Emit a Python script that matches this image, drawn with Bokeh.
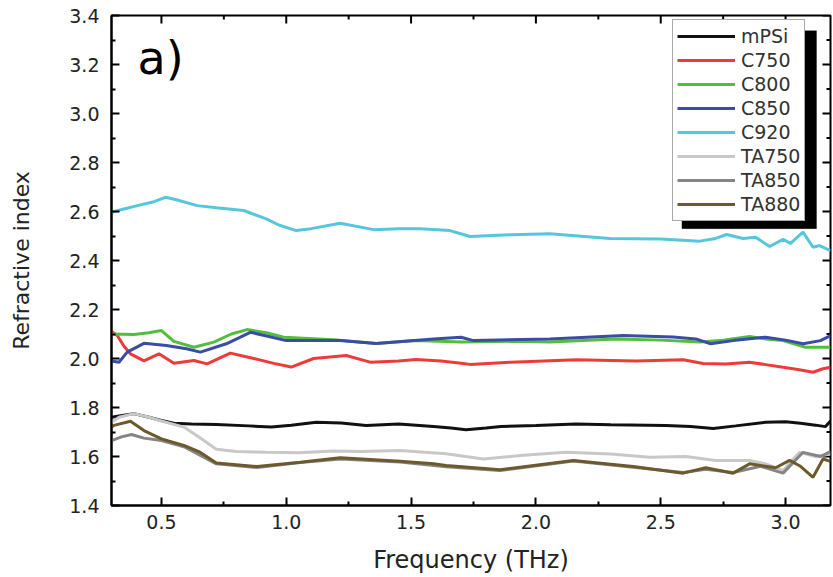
import math
from bokeh.plotting import figure
from bokeh.models import (Range1d, FixedTicker, Legend, LegendItem, Label,
                          ColumnDataSource, NumeralTickFormatter, BoxAnnotation)
from bokeh.embed import file_html
from bokeh.resources import INLINE

FONT = "DejaVu Sans"

# ---------------- data ----------------
x_min, x_max = 0.3, 3.18
y_min, y_max = 1.4, 3.4
x_ticks = [0.5, 1.0, 1.5, 2.0, 2.5, 3.0]
x_minor = [0.75, 1.25, 1.75, 2.25, 2.75]
y_ticks = [1.4, 1.6, 1.8, 2.0, 2.2, 2.4, 2.6, 2.8, 3.0, 3.2, 3.4]
y_minor = [1.5, 1.7, 1.9, 2.1, 2.3, 2.5, 2.7, 2.9, 3.1, 3.3]

mpsi_f = [0.3, 0.33, 0.39, 0.45, 0.5, 0.55, 0.62, 0.72, 0.85, 0.94, 1.02, 1.12, 1.22,
          1.32, 1.45, 1.59, 1.66, 1.72, 1.8, 1.86, 2.0, 2.16, 2.3, 2.52, 2.62, 2.71,
          2.8, 2.92, 3.0, 3.06, 3.12, 3.16, 3.18]
mpsi_n = [1.76, 1.765, 1.775, 1.76, 1.747, 1.736, 1.733, 1.731, 1.725, 1.72, 1.728,
          1.74, 1.737, 1.727, 1.733, 1.722, 1.716, 1.709, 1.716, 1.722, 1.727, 1.733,
          1.73, 1.727, 1.722, 1.714, 1.725, 1.74, 1.742, 1.736, 1.728, 1.722, 1.745]

c750_f = [0.3, 0.323, 0.35, 0.376, 0.43, 0.49, 0.55, 0.63, 0.683, 0.776, 0.87, 0.95,
          1.02, 1.11, 1.24, 1.336, 1.45, 1.52, 1.62, 1.70, 1.736, 1.9, 2.163, 2.4,
          2.59, 2.67, 2.76, 2.856, 2.92, 2.99, 3.05, 3.11, 3.15, 3.18]
c750_n = [2.11, 2.094, 2.05, 2.019, 1.99, 2.019, 1.981, 1.992, 1.978, 2.022, 2.0,
          1.98, 1.965, 2.0, 2.012, 1.985, 1.99, 1.996, 1.99, 1.981, 1.976, 1.985,
          1.995, 1.99, 1.995, 1.98, 1.978, 1.985, 1.975, 1.964, 1.955, 1.944, 1.958,
          1.964]

c800_f = [0.3, 0.39, 0.45, 0.5, 0.55, 0.63, 0.71, 0.78, 0.843, 0.92, 0.99, 1.19,
          1.36, 1.52, 1.70, 1.9, 2.056, 2.32, 2.5, 2.656, 2.75, 2.856, 2.92, 2.99,
          3.08, 3.18]
c800_n = [2.10, 2.098, 2.105, 2.114, 2.07, 2.046, 2.067, 2.1, 2.118, 2.105, 2.087,
          2.077, 2.061, 2.073, 2.067, 2.07, 2.067, 2.08, 2.075, 2.067, 2.075, 2.09,
          2.08, 2.073, 2.046, 2.046]

c850_f = [0.3, 0.33, 0.363, 0.43, 0.52, 0.6, 0.656, 0.76, 0.856, 0.93, 1.0, 1.216,
          1.36, 1.59, 1.7, 1.75, 2.056, 2.35, 2.55, 2.64, 2.70, 2.79, 2.92, 3.0,
          3.07, 3.14, 3.18]
c850_n = [1.99, 1.985, 2.026, 2.062, 2.053, 2.04, 2.026, 2.06, 2.107, 2.09, 2.073,
          2.073, 2.061, 2.08, 2.087, 2.073, 2.08, 2.094, 2.088, 2.08, 2.06, 2.073,
          2.087, 2.075, 2.06, 2.073, 2.094]

c920_f = [0.3, 0.35, 0.42, 0.47, 0.516, 0.56, 0.643, 0.72, 0.83, 0.92, 0.97, 1.04,
          1.1, 1.216, 1.35, 1.45, 1.536, 1.656, 1.736, 1.9, 2.056, 2.296, 2.5, 2.656,
          2.72, 2.763, 2.83, 2.88, 2.936, 2.99, 3.02, 3.07, 3.11, 3.136, 3.18]
c920_n = [2.597, 2.61, 2.628, 2.64, 2.658, 2.648, 2.624, 2.615, 2.604, 2.57, 2.545,
          2.522, 2.53, 2.552, 2.526, 2.53, 2.53, 2.522, 2.498, 2.505, 2.509, 2.49,
          2.488, 2.479, 2.49, 2.506, 2.49, 2.495, 2.457, 2.486, 2.47, 2.516, 2.454,
          2.461, 2.44]

ta750_f = [0.3, 0.33, 0.39, 0.45, 0.5, 0.59, 0.65, 0.72, 0.8, 0.92, 1.05, 1.19, 1.3,
           1.456, 1.64, 1.79, 1.95, 2.12, 2.3, 2.456, 2.6, 2.72, 2.856, 2.92, 2.99,
           3.056, 3.12, 3.18]
ta750_n = [1.74, 1.76, 1.775, 1.76, 1.745, 1.72, 1.68, 1.63, 1.62, 1.617, 1.615,
           1.622, 1.62, 1.624, 1.611, 1.59, 1.605, 1.617, 1.61, 1.597, 1.6, 1.584,
           1.584, 1.57, 1.543, 1.617, 1.6, 1.61]

ta850_f = [0.3, 0.34, 0.38, 0.43, 0.5, 0.59, 0.72, 0.883, 1.056, 1.216, 1.456, 1.64,
           1.856, 2.15, 2.39, 2.59, 2.68, 2.79, 2.9, 2.99, 3.07, 3.14, 3.18]
ta850_n = [1.665, 1.68, 1.69, 1.675, 1.665, 1.64, 1.57, 1.555, 1.575, 1.59, 1.578,
           1.558, 1.543, 1.582, 1.556, 1.535, 1.548, 1.535, 1.56, 1.532, 1.617, 1.6,
           1.62]

ta880_f = [0.3, 0.31, 0.376, 0.43, 0.5, 0.59, 0.65, 0.72, 0.883, 1.056, 1.216, 1.456,
           1.59, 1.64, 1.856, 2.15, 2.39, 2.59, 2.68, 2.79, 2.856, 2.96, 3.016, 3.06,
           3.11, 3.15, 3.18]
ta880_n = [1.72, 1.727, 1.744, 1.706, 1.672, 1.645, 1.62, 1.573, 1.559, 1.577, 1.595,
           1.581, 1.57, 1.563, 1.546, 1.584, 1.559, 1.532, 1.554, 1.532, 1.57, 1.554,
           1.584, 1.56, 1.515, 1.59, 1.58]

series_names = ["mPSi", "C750", "C800", "C850", "C920", "TA750", "TA850", "TA880"]
series_f = [mpsi_f, c750_f, c800_f, c850_f, c920_f, ta750_f, ta850_f, ta880_f]
series_n = [mpsi_n, c750_n, c800_n, c850_n, c920_n, ta750_n, ta850_n, ta880_n]
series_colors = ["#111111", "#ef3a3a", "#52bd3e", "#3a4ca6", "#56c6dc", "#c8c8c8",
                 "#858585", "#6d5a2c"]

# ---------------- figure ----------------
p = figure(width=833, height=577, output_backend="svg", toolbar_location=None,
           x_range=Range1d(x_min, x_max), y_range=Range1d(y_min, y_max),
           min_border_left=111, min_border_right=3, min_border_top=15,
           min_border_bottom=72)
p.background_fill_color = "white"
p.border_fill_color = "white"
p.outline_line_color = "black"
p.outline_line_width = 2
p.xgrid.visible = False
p.ygrid.visible = False


def style_axis(ax, ticks, minor):
    ax.ticker = FixedTicker(ticks=ticks, minor_ticks=minor)
    ax.formatter = NumeralTickFormatter(format="0.0")
    ax.axis_line_color = "black"
    ax.axis_line_width = 2
    ax.major_tick_line_color = "black"
    ax.major_tick_line_width = 2
    ax.minor_tick_line_color = "black"
    ax.minor_tick_line_width = 2
    ax.major_tick_in = 8
    ax.major_tick_out = 0
    ax.minor_tick_in = 4
    ax.minor_tick_out = 0
    ax.major_label_text_font = FONT
    ax.major_label_text_font_size = "19px"
    ax.major_label_text_color = "#222222"


xa = p.xaxis[0]
ya = p.yaxis[0]
style_axis(xa, x_ticks, x_minor)
style_axis(ya, y_ticks, y_minor)
xa.major_label_standoff = 9
ya.major_label_standoff = 12
xa.axis_label = "Frequency (THz)"
ya.axis_label = "Refractive index"
for ax in (xa, ya):
    ax.axis_label_text_font = FONT
    ax.axis_label_text_font_style = "normal"
    ax.axis_label_text_color = "#222222"
xa.axis_label_text_font_size = "24px"
ya.axis_label_text_font_size = "22px"
xa.axis_label_standoff = 14
ya.axis_label_standoff = 32

# mirrored inward ticks on the top and right frame edges (half clipped by the frame)
p.scatter(x=x_ticks, y=[y_max] * len(x_ticks), marker="dash", angle=math.pi / 2,
          size=16, line_color="black", line_width=2)
p.scatter(x=x_minor, y=[y_max] * len(x_minor), marker="dash", angle=math.pi / 2,
          size=8, line_color="black", line_width=2)
p.scatter(x=[x_max] * len(y_ticks), y=y_ticks, marker="dash", size=16,
          line_color="black", line_width=2)
p.scatter(x=[x_max] * len(y_minor), y=y_minor, marker="dash", size=8,
          line_color="black", line_width=2)

renderers = []
for name, f, n, c in zip(series_names, series_f, series_n, series_colors):
    src = ColumnDataSource(dict(f=f, n=n))
    r = p.line("f", "n", source=src, line_color=c, line_width=3)
    renderers.append((name, r))

# black drop shadow behind the legend box
shadow = BoxAnnotation(left=2.585, right=3.124, bottom=2.53, top=3.338,
                       fill_color="black", fill_alpha=1.0, line_color="black",
                       level="overlay")
p.add_layout(shadow)

legend = Legend(items=[LegendItem(label=nm, renderers=[r]) for nm, r in renderers])
legend.label_text_font = FONT
legend.label_text_font_size = "19px"
legend.label_text_color = "#333333"
legend.glyph_width = 58
legend.glyph_height = 24
legend.label_height = 24
legend.label_standoff = 6
legend.padding = 4
legend.spacing = 0
legend.margin = 0
legend.border_line_color = "#555555"
legend.border_line_width = 1
legend.background_fill_color = "white"
legend.background_fill_alpha = 1.0
legend.click_policy = "none"
legend.location = (561, 284)
legend.level = "overlay"
p.add_layout(legend)

p.add_layout(Label(x=0.404, y=3.228, text="a)", text_font=FONT,
                   text_font_size="46px", text_color="black",
                   text_baseline="alphabetic"))

open("out.html", "w").write(file_html(p, INLINE))
